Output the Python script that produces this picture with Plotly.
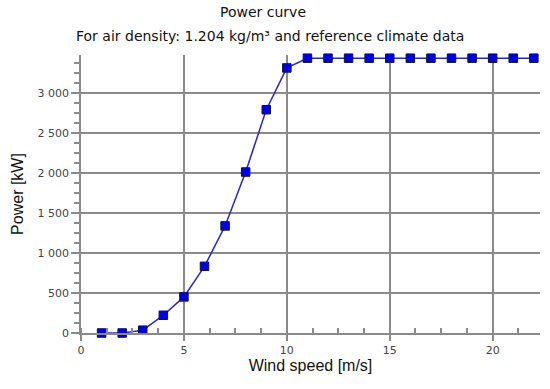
import plotly.graph_objects as go

wind_speed = [1, 2, 3, 4, 5, 6, 7, 8, 9, 10, 11, 12, 13, 14, 15, 16, 17, 18, 19, 20, 21, 22]
power_kw = [0, 0, 35, 222, 452, 835, 1340, 2015, 2795, 3318, 3440, 3440, 3440, 3440, 3440, 3440, 3440, 3440, 3440, 3440, 3440, 3440]

y_tick_vals = [0, 500, 1000, 1500, 2000, 2500, 3000]
y_tick_text = ["0", "500", "1 000", "1 500", "2 000", "2 500", "3 000"]
x_tick_vals = [0, 5, 10, 15, 20]
x_tick_text = ["0", "5", "10", "15", "20"]

title_line1 = "Power curve"
title_line2 = "For air density: 1.204 kg/m³ and reference climate data"

fig = go.Figure()
fig.add_trace(go.Scatter(
    x=wind_speed, y=power_kw, mode="lines+markers",
    line=dict(color="#2828C0", width=1.5),
    marker=dict(symbol="square", size=8.5, color="#0000E8", line=dict(color="#101040", width=1)),
    cliponaxis=False, showlegend=False,
))

tick_font = dict(family="DejaVu Sans", size=11, color="#444444")
title_font = dict(family="DejaVu Sans", size=14, color="#111111")
fig.update_layout(
    width=550, height=389,
    margin=dict(l=81, r=10, t=55, b=56),
    paper_bgcolor="white", plot_bgcolor="white",
    annotations=[
        dict(text=title_line1, xref="paper", yref="paper", x=0.3965, y=1.153,
             xanchor="center", yanchor="middle", showarrow=False, font=title_font),
        dict(text=title_line2, xref="paper", yref="paper", x=0.412, y=1.070,
             xanchor="center", yanchor="middle", showarrow=False, font=title_font),
    ],
    xaxis=dict(
        range=[0, 22.3], tickvals=x_tick_vals, ticktext=x_tick_text,
        showgrid=True, gridcolor="#8a8a8a", gridwidth=1.5,
        showline=True, linecolor="#8a8a8a", linewidth=1.5,
        ticks="outside", ticklen=6, tickcolor="#8a8a8a", tickwidth=1.5,
        tickfont=tick_font, zeroline=False,
        minor=dict(dtick=1.25, ticks="inside", ticklen=5, tickcolor="#8a8a8a", showgrid=False),
        title=dict(text="Wind speed [m/s]", font=dict(family="Liberation Sans", size=16, color="#111111"), standoff=4),
    ),
    yaxis=dict(
        range=[0, 3480], tickvals=y_tick_vals, ticktext=y_tick_text,
        showgrid=True, gridcolor="#8a8a8a", gridwidth=1.5,
        showline=True, linecolor="#8a8a8a", linewidth=1.5,
        ticks="outside", ticklen=8, tickcolor="#8a8a8a", tickwidth=1.5,
        tickfont=tick_font, zeroline=False,
        minor=dict(dtick=125, tick0=0, ticks="outside", ticklen=5, tickcolor="#8a8a8a", showgrid=False),
        title=dict(text="Power [kW]", font=dict(family="Liberation Sans", size=16, color="#111111"), standoff=10),
    ),
)

fig.write_html("out.html", config={"displayModeBar": False},
               post_script="document.body.style.margin='0';")
